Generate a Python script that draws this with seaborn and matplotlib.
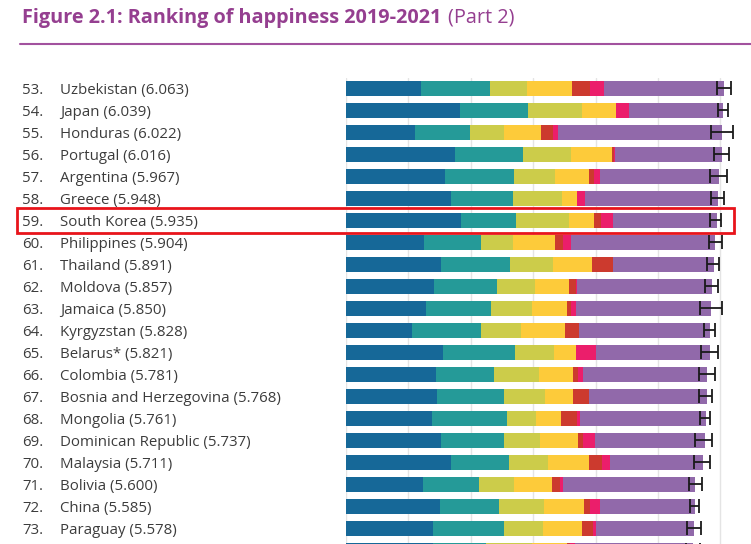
import numpy as np
import pandas as pd
import matplotlib
matplotlib.use("Agg")
import matplotlib.pyplot as plt
import matplotlib.patches as patches
from matplotlib.lines import Line2D
from matplotlib.transforms import blended_transform_factory
import seaborn as sns

# Rank, country and score shown in the labels
ranks = list(range(53, 75))
countries = ["Uzbekistan", "Japan", "Honduras", "Portugal", "Argentina", "Greece",
             "South Korea", "Philippines", "Thailand", "Moldova", "Jamaica", "Kyrgyzstan",
             "Belarus*", "Colombia", "Bosnia and Herzegovina", "Mongolia",
             "Dominican Republic", "Malaysia", "Bolivia", "China", "Paraguay", "Peru"]
scores = [6.063, 6.039, 6.022, 6.016, 5.967, 5.948, 5.935, 5.904, 5.891, 5.857, 5.850,
          5.828, 5.821, 5.781, 5.768, 5.761, 5.737, 5.711, 5.600, 5.585, 5.578, 5.559]

# Explained components
gdp = [1.202, 1.827, 1.106, 1.747, 1.587, 1.683, 1.843, 1.250, 1.522, 1.410, 1.282,
       1.058, 1.554, 1.442, 1.458, 1.378, 1.522, 1.683, 1.234, 1.506, 1.394, 1.394]
social = [1.106, 1.090, 0.881, 1.090, 1.105, 0.993, 0.881, 0.913, 1.106, 1.010, 1.042,
          1.105, 1.154, 0.930, 1.074, 1.202, 1.010, 0.929, 0.897, 0.946, 1.138, 0.850]
health = [0.593, 0.865, 0.545, 0.769, 0.657, 0.786, 0.850, 0.513, 0.689, 0.609, 0.657,
          0.641, 0.625, 0.721, 0.657, 0.465, 0.577, 0.625, 0.561, 0.721, 0.625, 0.737]
freedom = [0.721, 0.545, 0.593, 0.657, 0.545, 0.240, 0.400, 0.673, 0.625, 0.545, 0.561,
           0.706, 0.353, 0.545, 0.449, 0.401, 0.609, 0.657, 0.609, 0.641, 0.625, 0.561]
generosity = [0.288, 0.000, 0.198, 0.030, 0.080, 0.000, 0.113, 0.128, 0.337, 0.112, 0.064,
              0.224, 0.000, 0.080, 0.256, 0.256, 0.080, 0.209, 0.128, 0.096, 0.176, 0.048]
corruption = [0.225, 0.208, 0.075, 0.018, 0.097, 0.128, 0.192, 0.128, 0.000, 0.016, 0.080,
              0.000, 0.320, 0.080, 0.000, 0.048, 0.192, 0.128, 0.049, 0.161, 0.048, 0.080]
dystopia = [1.923, 1.507, 2.629, 1.715, 1.907, 2.132, 1.667, 2.307, 1.618, 2.163, 2.163,
            2.099, 1.827, 1.987, 1.891, 2.019, 1.763, 1.490, 2.115, 1.522, 1.571, 1.891]

# 95% confidence interval ends
ci_low = [5.95, 5.96, 5.85, 5.90, 5.83, 5.855, 5.84, 5.81, 5.79, 5.76, 5.68,
          5.74, 5.69, 5.66, 5.66, 5.68, 5.60, 5.58, 5.49, 5.52, 5.47, 5.45]
ci_high = [6.175, 6.12, 6.20, 6.13, 6.10, 6.05, 6.01, 6.02, 5.98, 5.96, 6.02,
           5.92, 5.96, 5.91, 5.87, 5.84, 5.87, 5.84, 5.71, 5.65, 5.69, 5.67]

highlight = "South Korea"

components = ["gdp", "social", "health", "freedom", "generosity", "corruption", "dystopia"]
colors = ["#166898", "#259a98", "#cccc4a", "#fdcb3a", "#cc3a2e", "#eb1e6b", "#9169aa"]

df = pd.DataFrame({"country": countries, "gdp": gdp, "social": social, "health": health,
                   "freedom": freedom, "generosity": generosity,
                   "corruption": corruption, "dystopia": dystopia})
cum = df[components].cumsum(axis=1)
for c in components:
    df["cum_" + c] = cum[c]

sns.set_style("white")
plt.rcParams["font.family"] = ["Open Sans", "DejaVu Sans"]

W, H = 751, 544
fig = plt.figure(figsize=(W / 100, H / 100), dpi=100)

# axes placed in pixel terms: x=0 at 346px, 62.4 px per unit, rows 22px apart
x0_px, unit_px = 346, 62.4
row0_px, row_px = 88.3, 22
top_px = 78
ax = fig.add_axes([x0_px / W, 0, 1 - x0_px / W, 1 - top_px / H])

# stacked bars: draw cumulative totals from the longest down
for c, col in reversed(list(zip(components, colors))):
    sns.barplot(data=df, x="cum_" + c, y="country", color=col, orient="h",
                width=0.67, saturation=1, linewidth=0, ax=ax)

mid = (np.array(ci_low) + np.array(ci_high)) / 2
half = (np.array(ci_high) - np.array(ci_low)) / 2
ax.errorbar(mid, np.arange(len(countries)), xerr=half, fmt="none",
            ecolor="#1a1a1a", elinewidth=1.3, capsize=5, capthick=1.3)

ax.set_xlim(0, (W - x0_px) / unit_px)
ax.set_ylim((H - row0_px) / row_px, (top_px - row0_px) / row_px)
ax.set_xticks(range(0, 7))
ax.grid(axis="x", color="#e4e4e4", lw=1)
ax.set_axisbelow(True)
ax.tick_params(left=False, bottom=False, labelleft=False, labelbottom=False)
ax.set_xlabel("")
ax.set_ylabel("")
sns.despine(ax=ax, left=True, bottom=True)

# row labels (only rows whose centre is inside the picture)
trans = blended_transform_factory(fig.transFigure, ax.transData)
for i, (r, name, s) in enumerate(zip(ranks, countries, scores)):
    if row0_px + row_px * i > H - 6:
        continue
    ax.text(22 / W, i, f"{r}.", transform=trans, va="center_baseline", ha="left",
            fontsize=10.8, color="#3c3c3c", clip_on=False)
    ax.text(60 / W, i, f"{name} ({s:.3f})", transform=trans, va="center_baseline",
            ha="left", fontsize=10.8, color="#3c3c3c", clip_on=False)

# highlight box
hi = countries.index(highlight)
yc = H - (row0_px + row_px * hi)
fig.add_artist(patches.Rectangle((17 / W, (yc - 12.5) / H), (734 - 17) / W, 25 / H,
                                 transform=fig.transFigure, fill=False,
                                 edgecolor="#e8141b", lw=2))

# title and rule
t1 = fig.text(22 / W, 1 - 18 / H, "Figure 2.1: Ranking of happiness 2019-2021",
              fontsize=14.3, fontweight="bold", color="#953f90", va="center")
fig.canvas.draw()
bb = t1.get_window_extent(renderer=fig.canvas.get_renderer())
fig.text((bb.x1 + 7) / W, 1 - 18 / H, "(Part 2)", fontsize=14.3, color="#953f90",
         va="center")
fig.add_artist(Line2D([20 / W, 1], [1 - 44 / H] * 2, color="#a2529e", lw=1.5))

fig.savefig("out.png", dpi=100)
